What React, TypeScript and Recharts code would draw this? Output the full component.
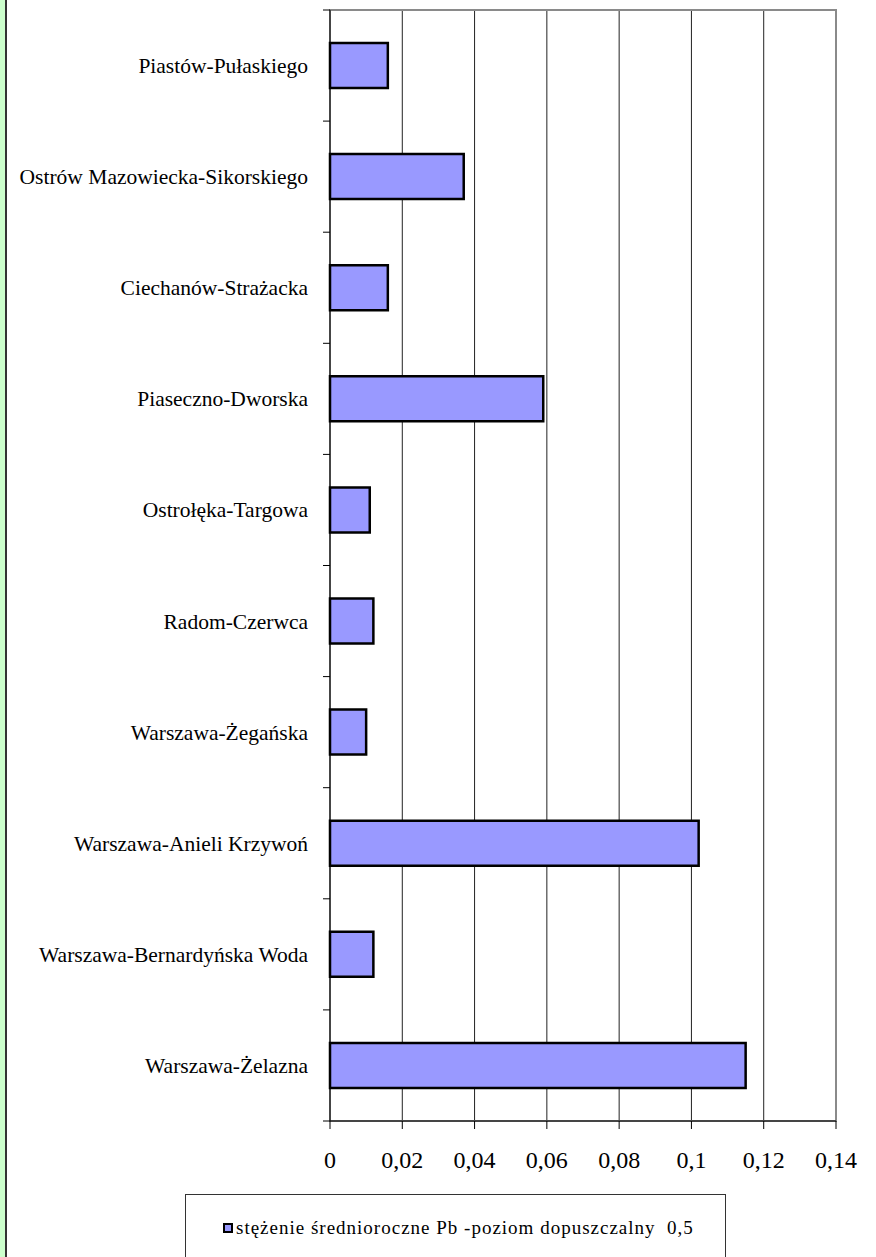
import React from 'react';
import {
  BarChart,
  Bar,
  XAxis,
  YAxis,
  CartesianGrid,
  ReferenceArea,
} from 'recharts';

const STATIONS = [
  'Piastów-Pułaskiego',
  'Ostrów Mazowiecka-Sikorskiego',
  'Ciechanów-Strażacka',
  'Piaseczno-Dworska',
  'Ostrołęka-Targowa',
  'Radom-Czerwca',
  'Warszawa-Żegańska',
  'Warszawa-Anieli Krzywoń',
  'Warszawa-Bernardyńska Woda',
  'Warszawa-Żelazna',
];

const PB_VALUES = [0.016, 0.037, 0.016, 0.059, 0.011, 0.012, 0.01, 0.102, 0.012, 0.115];

const X_TICKS = [0, 0.02, 0.04, 0.06, 0.08, 0.1, 0.12, 0.14];

const SERIES_NAME = 'stężenie średnioroczne Pb -poziom dopuszczalny  0,5';

const FONT = 'Liberation Serif, DejaVu Serif, serif';

const W = 876;
const H = 1257;
const TOP = 10;
const PLOT_BOTTOM = 1121;
const BAND = (PLOT_BOTTOM - TOP) / STATIONS.length;

const data = STATIONS.map((name, i) => ({ name, value: PB_VALUES[i] }));

const fmt = (v: number) => String(v).replace('.', ',');

// category labels with Excel-like tick marks between categories
function StationTick(props: any) {
  const { x, y, payload, index } = props;
  const axisX = x + 8;
  return (
    <g>
      <line x1={axisX - 7} x2={axisX} y1={y - BAND / 2} y2={y - BAND / 2} stroke="#000" />
      {index === STATIONS.length - 1 && (
        <line x1={axisX - 7} x2={axisX} y1={y + BAND / 2} y2={y + BAND / 2} stroke="#000" />
      )}
      <text
        x={axisX - 22}
        y={y}
        dy="0.35em"
        textAnchor="end"
        style={{ fontFamily: FONT }}
        fontSize={21.5}
        fill="#000"
      >
        {payload.value}
      </text>
    </g>
  );
}

export default function App() {
  return (
    <div
      style={{
        position: 'absolute',
        left: 0,
        top: 0,
        width: W,
        height: H,
        background: '#fff',
        overflow: 'hidden',
        fontFamily: FONT,
      }}
    >
      <div
        style={{
          position: 'absolute',
          left: 0,
          top: 0,
          width: 5,
          height: H,
          background: '#ccffcc',
          borderRight: '2px solid #333',
        }}
      />
      <BarChart
        width={W}
        height={H}
        data={data}
        layout="vertical"
        margin={{ top: TOP, right: 40, bottom: 0, left: 0 }}
        barSize={45}
        style={{ fontFamily: FONT }}
      >
        <CartesianGrid horizontal={false} stroke="#222" />
        <ReferenceArea x1={0} x2={0.14} fill="none" stroke="#8a8a8a" strokeWidth={2} />
        <XAxis
          type="number"
          domain={[0, 0.14]}
          ticks={X_TICKS}
          tickFormatter={fmt}
          height={H - PLOT_BOTTOM}
          tickSize={8}
          tickMargin={22}
          axisLine={{ stroke: '#000' }}
          tickLine={{ stroke: '#000' }}
          tick={{ fontSize: 24, fill: '#000', style: { fontFamily: FONT } }}
          interval={0}
        />
        <YAxis
          type="category"
          dataKey="name"
          width={330}
          axisLine={{ stroke: '#000' }}
          tickLine={false}
          tick={<StationTick />}
          interval={0}
        />
        <Bar
          dataKey="value"
          name={SERIES_NAME}
          fill="#9999ff"
          stroke="#000"
          strokeWidth={2.5}
          isAnimationActive={false}
        />
      </BarChart>
      <div
        style={{
          position: 'absolute',
          left: 185,
          top: 1194,
          width: 541,
          height: 100,
          border: '1px solid #333',
          boxSizing: 'border-box',
          fontSize: 19,
          letterSpacing: 1,
        }}
      >
        <div style={{ position: 'absolute', left: 37, top: 22, display: 'flex', alignItems: 'center', whiteSpace: 'pre' }}>
          <span
            style={{
              display: 'inline-block',
              width: 6,
              height: 6,
              background: '#9999ff',
              border: '2px solid #000',
              marginRight: 3,
            }}
          />
          <span>{SERIES_NAME}</span>
        </div>
      </div>
    </div>
  );
}
